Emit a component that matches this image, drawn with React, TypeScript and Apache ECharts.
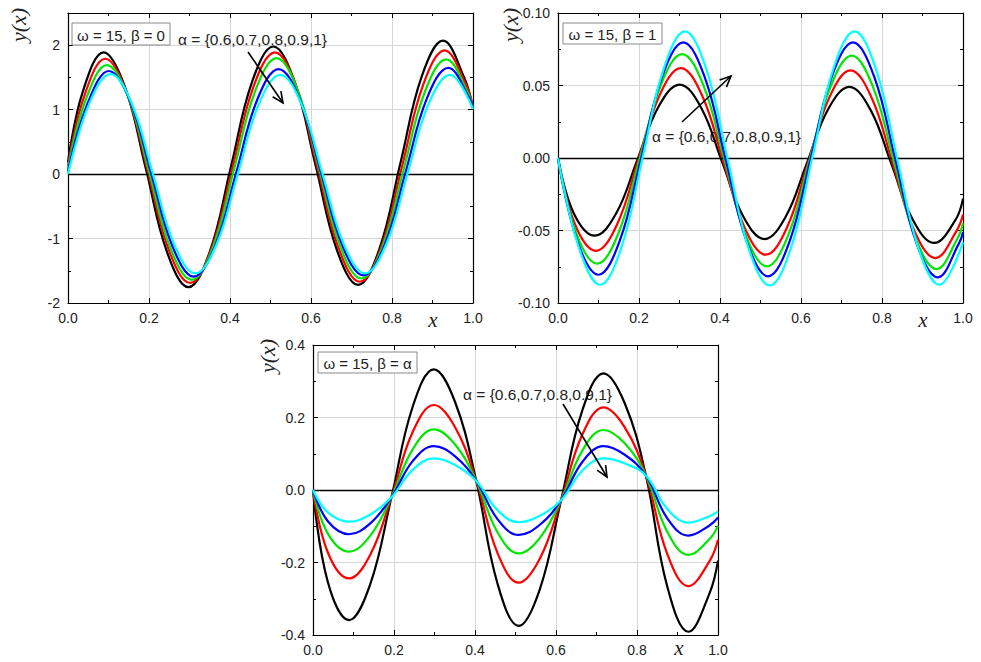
import React, { useEffect, useRef } from "react";
import * as echarts from "echarts";

const COLORS = ["#000000", "#ff0000", "#00e600", "#0000ff", "#00ffff"];
const ANNOT = "α = {0.6,0.7,0.8,0.9,1}";
const BOX_LABELS = ["ω = 15, β = 0", "ω = 15, β = 1", "ω = 15, β = α"];

// Panel 1 (ω = 15, β = 0)
const p1xBlack = [0, 0.0356, 0.088, 0.1404, 0.1927, 0.2451, 0.2974, 0.3498, 0.4022, 0.4545, 0.5069, 0.5592, 0.6116, 0.664, 0.7163, 0.7687, 0.821, 0.8734, 0.9258, 0.9781, 1];
const p1yBlack = [0.18, 1.26, 1.89, 1.357, 0.07, -1.22, -1.755, -1.209, 0.11, 1.432, 1.98, 1.438, 0.13, -1.178, -1.72, -1.165, 0.175, 1.515, 2.07, 1.5, 1.02];
const p1xRed = [0, 0.0396, 0.092, 0.1444, 0.1967, 0.2491, 0.3014, 0.3538, 0.4062, 0.4585, 0.5109, 0.5632, 0.6156, 0.668, 0.7203, 0.7727, 0.825, 0.8774, 0.9298, 0.9821, 1];
const p1yRed = [0.12, 1.2, 1.79, 1.28, 0.05, -1.18, -1.69, -1.166, 0.1, 1.366, 1.89, 1.368, 0.11, -1.148, -1.67, -1.144, 0.125, 1.394, 1.92, 1.394, 1.03];
const p1xGreen = [0, 0.0436, 0.096, 0.1484, 0.2007, 0.2531, 0.3054, 0.3578, 0.4102, 0.4625, 0.5149, 0.5672, 0.6196, 0.672, 0.7243, 0.7767, 0.829, 0.8814, 0.9338, 0.9861, 1];
const p1yGreen = [0.08, 1.15, 1.69, 1.202, 0.025, -1.152, -1.64, -1.136, 0.08, 1.296, 1.8, 1.299, 0.09, -1.119, -1.62, -1.122, 0.08, 1.282, 1.78, 1.282, 1.02];
const p1xBlue = [0, 0.0486, 0.101, 0.1534, 0.2057, 0.2581, 0.3104, 0.3628, 0.4152, 0.4675, 0.5199, 0.5722, 0.6246, 0.677, 0.7293, 0.7817, 0.834, 0.8864, 0.9388, 0.9911, 1];
const p1yBlue = [0.04, 1.1, 1.6, 1.133, 0.005, -1.123, -1.59, -1.118, 0.02, 1.158, 1.63, 1.161, 0.03, -1.101, -1.57, -1.098, 0.04, 1.178, 1.65, 1.178, 1.02];
const p1xCyan = [0, 0.0526, 0.105, 0.1574, 0.2097, 0.2621, 0.3144, 0.3668, 0.4192, 0.4715, 0.5239, 0.5762, 0.6286, 0.681, 0.7333, 0.7857, 0.838, 0.8904, 0.9428, 1];
const p1yCyan = [0, 1.096, 1.55, 1.096, 0, -1.089, -1.54, -1.089, 0, 1.089, 1.54, 1.089, 0, -1.089, -1.54, -1.089, 0, 1.089, 1.54, 1.01];

// Panel 2 (ω = 15, β = 1)
const p2xBlack = [0, 0.0386, 0.091, 0.1434, 0.1957, 0.2481, 0.3004, 0.3528, 0.4052, 0.4575, 0.5099, 0.5622, 0.6146, 0.667, 0.7193, 0.7717, 0.824, 0.8764, 0.9288, 0.9811, 1];
const p2yBlack = [0, -0.0379, -0.0536, -0.0383, -0.0015, 0.0353, 0.0506, 0.035, -0.0027, -0.0403, -0.0559, -0.0405, -0.0035, 0.0336, 0.049, 0.0332, -0.0048, -0.0428, -0.0586, -0.0429, -0.028];
const p2xRed = [0, 0.0416, 0.094, 0.1464, 0.1987, 0.2511, 0.3034, 0.3558, 0.4082, 0.4605, 0.5129, 0.5652, 0.6176, 0.67, 0.7223, 0.7747, 0.827, 0.8794, 0.9318, 0.9841, 1];
const p2yRed = [0, -0.0455, -0.064, -0.0455, -0.001, 0.0435, 0.062, 0.0431, -0.0024, -0.0479, -0.0667, -0.0481, -0.0032, 0.0418, 0.0604, 0.0414, -0.0043, -0.05, -0.069, -0.0503, -0.039];
const p2xGreen = [0, 0.0446, 0.097, 0.1494, 0.2017, 0.2541, 0.3064, 0.3588, 0.4112, 0.4635, 0.5159, 0.5682, 0.6206, 0.673, 0.7253, 0.7777, 0.83, 0.8824, 0.9348, 0.9871, 1];
const p2yGreen = [0, -0.0517, -0.0729, -0.0517, -0.0006, 0.0505, 0.0717, 0.0503, -0.0015, -0.0533, -0.0747, -0.0534, -0.002, 0.0493, 0.0706, 0.049, -0.003, -0.055, -0.0766, -0.055, -0.045];
const p2xBlue = [0, 0.0476, 0.1, 0.1524, 0.2047, 0.2571, 0.3094, 0.3618, 0.4142, 0.4665, 0.5189, 0.5712, 0.6236, 0.676, 0.7283, 0.7807, 0.833, 0.8854, 0.9378, 0.9901, 1];
const p2yBlue = [0, -0.0572, -0.0805, -0.0572, -0.001, 0.0561, 0.0797, 0.0561, -0.001, -0.058, -0.0816, -0.058, -0.001, 0.0561, 0.0797, 0.0561, -0.001, -0.0589, -0.0823, -0.0589, -0.051];
const p2xCyan = [0, 0.0516, 0.104, 0.1564, 0.2087, 0.2611, 0.3134, 0.3658, 0.4182, 0.4705, 0.5229, 0.5752, 0.6276, 0.68, 0.7323, 0.7847, 0.837, 0.8894, 0.9418, 1];
const p2yCyan = [0, -0.0618, -0.0874, -0.0618, 0, 0.0617, 0.0873, 0.0617, 0, -0.0621, -0.0879, -0.0621, 0, 0.0617, 0.0873, 0.0617, 0, -0.0618, -0.0874, -0.058];

// Panel 3 (ω = 15, β = α)
const p3x = [0, 0.0366, 0.089, 0.1414, 0.1937, 0.2461, 0.2984, 0.3508, 0.4032, 0.4555, 0.5079, 0.5602, 0.6126, 0.665, 0.7173, 0.7697, 0.822, 0.8744, 0.9268, 0.9791, 1];
const p3yBlack = [0, -0.254, -0.359, -0.2597, -0.02, 0.2296, 0.333, 0.2428, 0.025, -0.2578, -0.375, -0.2733, -0.028, 0.2195, 0.322, 0.2394, 0.04, -0.2647, -0.391, -0.285, -0.195];
const p3yRed = [0, -0.1725, -0.244, -0.1784, -0.02, 0.1599, 0.2345, 0.1731, 0.025, -0.1735, -0.2557, -0.189, -0.028, 0.153, 0.228, 0.1729, 0.04, -0.1756, -0.265, -0.1961, -0.137];
const p3yGreen = [0, -0.1202, -0.17, -0.126, -0.02, 0.1122, 0.167, 0.1254, 0.025, -0.1164, -0.175, -0.1319, -0.028, 0.1088, 0.1655, 0.1287, 0.04, -0.1148, -0.179, -0.1353, -0.099];
const p3yBlue = [0, -0.0863, -0.122, -0.0921, -0.02, 0.0797, 0.121, 0.0929, 0.025, -0.0803, -0.124, -0.0959, -0.028, 0.0773, 0.121, 0.0973, 0.04, -0.0774, -0.126, -0.0979, -0.076];
const p3yCyan = [0, -0.0618, -0.0874, -0.0677, -0.02, 0.0556, 0.087, 0.0688, 0.025, -0.0556, -0.089, -0.0711, -0.028, 0.0533, 0.087, 0.0732, 0.04, -0.0519, -0.09, -0.0724, -0.059];

const Y_AXES = [
  { min: -2, max: 2.5, interval: 1, fmt: (v: number) => (Math.abs(v - Math.round(v)) < 1e-9 ? String(Math.round(v)) : "") },
  { min: -0.1, max: 0.1, interval: 0.05, fmt: (v: number) => v.toFixed(2) },
  { min: -0.4, max: 0.4, interval: 0.2, fmt: (v: number) => v.toFixed(1) },
];

const PANELS = [
  { xs: [p1xBlack, p1xRed, p1xGreen, p1xBlue, p1xCyan], ys: [p1yBlack, p1yRed, p1yGreen, p1yBlue, p1yCyan] },
  { xs: [p2xBlack, p2xRed, p2xGreen, p2xBlue, p2xCyan], ys: [p2yBlack, p2yRed, p2yGreen, p2yBlue, p2yCyan] },
  { xs: [p3x, p3x, p3x, p3x, p3x], ys: [p3yBlack, p3yRed, p3yGreen, p3yBlue, p3yCyan] },
];

// layout (pixels)
const GRIDS = [
  { left: 68, top: 13, width: 405, height: 290 },
  { left: 558, top: 13, width: 405, height: 290 },
  { left: 313, top: 345, width: 405, height: 290 },
];

const SANS = '"Liberation Sans", Arial, sans-serif';
const SERIF = '"Liberation Serif", "Times New Roman", serif';

function arrow(x1: number, y1: number, x2: number, y2: number) {
  const ang = Math.atan2(y2 - y1, x2 - x1);
  const L = 11, W = 5;
  const bx = x2 - L * Math.cos(ang), by = y2 - L * Math.sin(ang);
  const px = -Math.sin(ang), py = Math.cos(ang);
  return [
    { type: "line", shape: { x1, y1, x2, y2 }, style: { stroke: "#000", lineWidth: 1.6 }, z: 20 },
    {
      type: "polyline",
      shape: { points: [[bx + W * px, by + W * py], [x2, y2], [bx - W * px, by - W * py]] },
      style: { stroke: "#000", lineWidth: 1.6, fill: null },
      z: 20,
    },
  ];
}

export default function App() {
  const ref = useRef<HTMLDivElement>(null);
  useEffect(() => {
    if (!ref.current) return;
    const chart = echarts.init(ref.current, undefined, { renderer: "svg" });

    const xAxis: any[] = [];
    const yAxis: any[] = [];
    GRIDS.forEach((_, gi) => {
      const common = {
        type: "value",
        gridIndex: gi,
        min: 0,
        max: 1,
        interval: 0.2,
        axisLine: { show: true, onZero: false, lineStyle: { color: "#000", width: 1.2 } },
        axisTick: { show: true, inside: true, length: 5, lineStyle: { color: "#000", width: 1 } },
        minorTick: { show: true, splitNumber: 2, length: 3, lineStyle: { color: "#000", width: 1 } },
      };
      xAxis.push({
        ...common,
        position: "bottom",
        axisLabel: { formatter: (v: number) => v.toFixed(1), fontSize: 14, color: "#222", fontFamily: SANS, margin: 8 },
        splitLine: { show: true, lineStyle: { color: "#d6d6d6", width: 1 } },
      });
      const ya = Y_AXES[gi];
      yAxis.push({
        ...common,
        min: ya.min,
        max: ya.max,
        interval: ya.interval,
        position: "left",
        axisLabel: { formatter: ya.fmt, fontSize: 14, color: "#222", fontFamily: SANS, margin: 8 },
        splitLine: { show: true, lineStyle: { color: "#d6d6d6", width: 1 } },
      });
    });
    GRIDS.forEach((_, gi) => {
      const common = {
        type: "value",
        gridIndex: gi,
        axisLine: { show: true, onZero: false, lineStyle: { color: "#000", width: 1.2 } },
        axisTick: { show: true, inside: true, length: 5, lineStyle: { color: "#000", width: 1 } },
        minorTick: { show: true, splitNumber: 2, length: 3, lineStyle: { color: "#000", width: 1 } },
        axisLabel: { show: false },
        splitLine: { show: false },
      };
      xAxis.push({ ...common, min: 0, max: 1, interval: 0.2, position: "top" });
      const ya = Y_AXES[gi];
      yAxis.push({ ...common, min: ya.min, max: ya.max, interval: ya.interval, position: "right" });
    });

    const series: any[] = [];
    PANELS.forEach((p, gi) => {
      p.xs.forEach((xs, ci) => {
        const ys = p.ys[ci];
        const s: any = {
          type: "line",
          name: `p${gi}-${ci}`,
          xAxisIndex: gi,
          yAxisIndex: gi,
          data: xs.map((x, i) => [x, ys[i]]),
          showSymbol: false,
          smooth: 0.4,
          lineStyle: { color: COLORS[ci], width: 2.2 },
          itemStyle: { color: COLORS[ci] },
          z: 3 + ci,
        };
        if (ci === 0) {
          s.markLine = {
            silent: true,
            symbol: ["none", "none"],
            label: { show: false },
            lineStyle: { color: "#000", width: 1.3, type: "solid" },
            data: [{ yAxis: 0 }],
          };
        }
        series.push(s);
      });
    });

    const boxes = [
      { x: 72, y: 23, w: 98, h: 22 },
      { x: 563, y: 23, w: 99, h: 21 },
      { x: 318, y: 352, w: 99, h: 21 },
    ];
    const graphic: any[] = [];
    boxes.forEach((b, i) => {
      graphic.push({
        type: "rect",
        shape: { x: b.x, y: b.y, width: b.w, height: b.h },
        style: { fill: "#fff", stroke: "#8a8a8a", lineWidth: 1 },
        z: 30,
      });
      graphic.push({
        type: "text",
        x: b.x + b.w / 2,
        y: b.y + b.h / 2 + 1,
        style: { text: BOX_LABELS[i], fontSize: 15, fontFamily: SANS, fill: "#222", align: "center", verticalAlign: "middle" },
        z: 31,
      });
    });
    // annotations
    const annots = [
      { x: 178, y: 39 },
      { x: 652, y: 136 },
      { x: 463, y: 394 },
    ];
    annots.forEach((a) => {
      graphic.push({
        type: "text",
        x: a.x,
        y: a.y,
        style: { text: ANNOT, fontSize: 15.5, fontFamily: SANS, fill: "#222", align: "left", verticalAlign: "middle" },
        z: 1,
      });
    });
    graphic.push(...arrow(248, 52, 283, 103));
    graphic.push(...arrow(682, 122, 731, 76));
    graphic.push(...arrow(563, 404, 607, 477));
    // axis names
    const yNames = [
      { x: 18, y: 25 },
      { x: 510, y: 25 },
      { x: 267, y: 356 },
    ];
    yNames.forEach((n) => {
      graphic.push({
        type: "text",
        x: n.x,
        y: n.y,
        rotation: Math.PI / 2,
        style: { text: "y(x)", font: `italic 22px ${SERIF}`, fill: "#222", align: "center", verticalAlign: "middle" },
      });
    });
    const xNames = [
      { x: 433, y: 320 },
      { x: 923, y: 320 },
      { x: 679, y: 648 },
    ];
    xNames.forEach((n) => {
      graphic.push({
        type: "text",
        x: n.x,
        y: n.y,
        style: { text: "x", font: `italic 21px ${SERIF}`, fill: "#222", align: "center", verticalAlign: "middle" },
      });
    });

    chart.setOption({
      animation: false,
      backgroundColor: "#ffffff",
      grid: GRIDS.map((g) => ({ ...g, containLabel: false })),
      xAxis,
      yAxis,
      series,
      graphic,
    });
    return () => chart.dispose();
  }, []);

  return (
    <div
      ref={ref}
      style={{ position: "absolute", left: 0, top: 0, width: 981, height: 662, background: "#fff" }}
    />
  );
}
